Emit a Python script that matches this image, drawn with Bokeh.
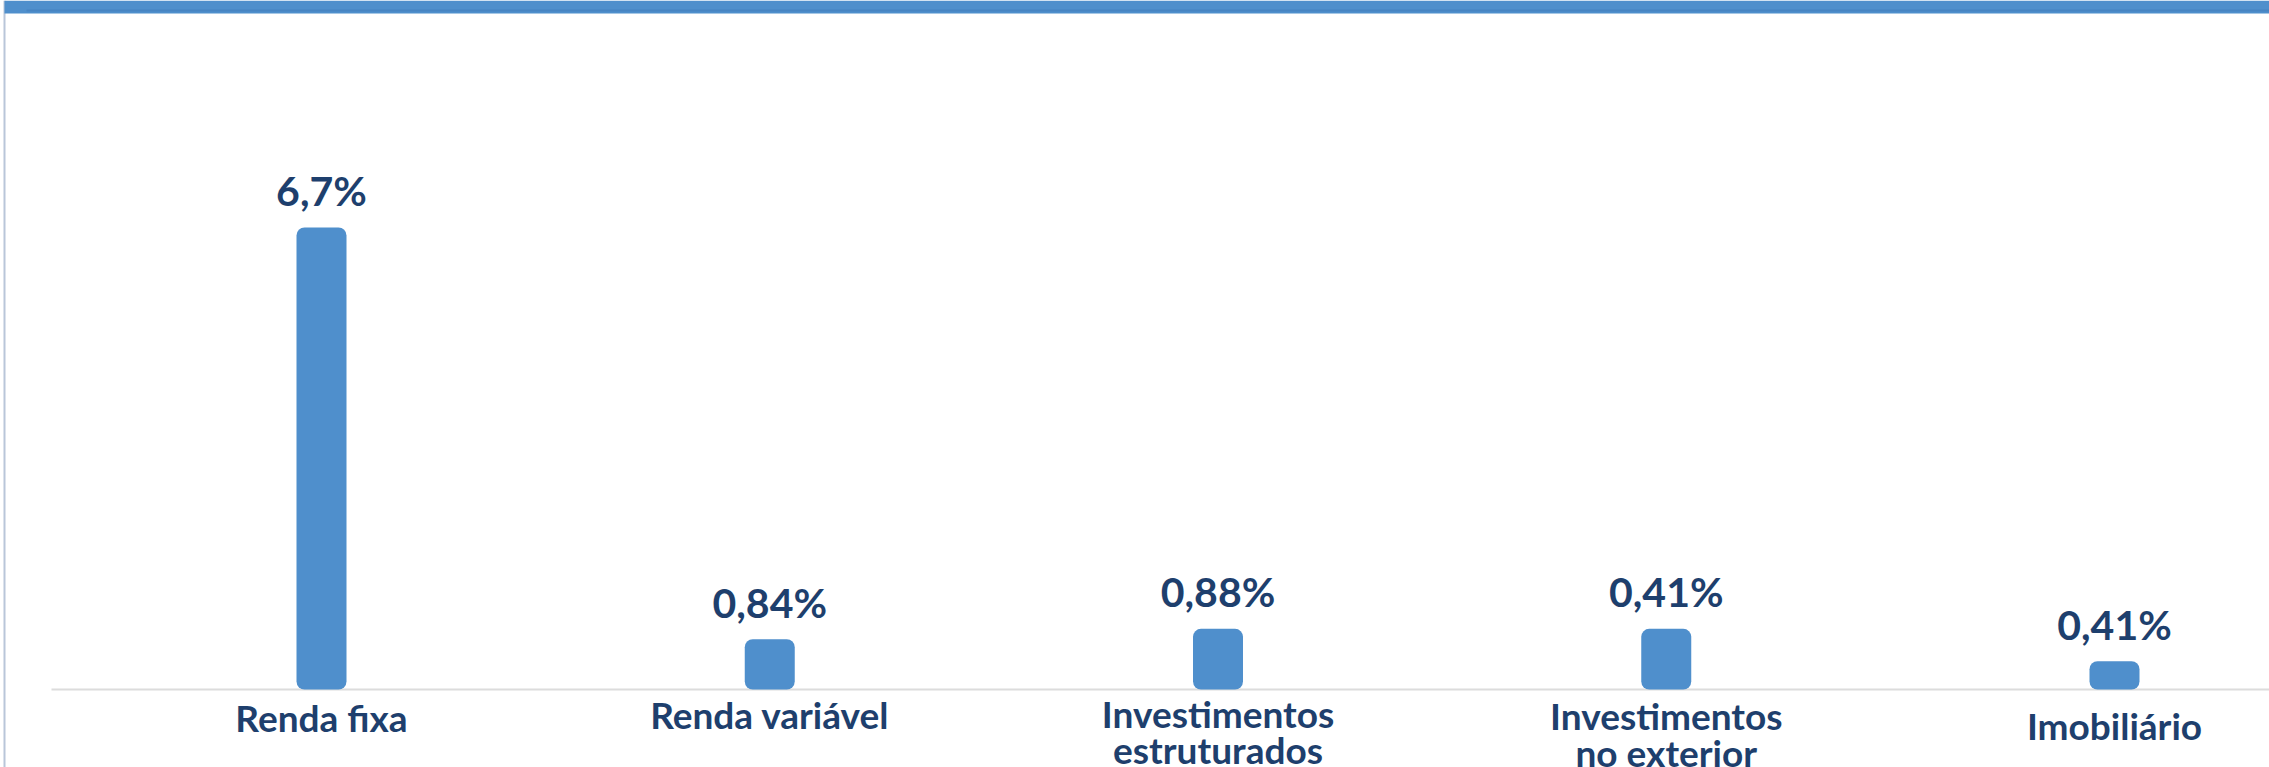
from bokeh.plotting import figure
from bokeh.models import Range1d, ColumnDataSource
from bokeh.core.properties import value
from bokeh.embed import file_html
from bokeh.resources import INLINE

# ---- data ----
categories = ["Renda fixa", "Renda variável", "Investimentos\nestruturados",
              "Investimentos\nno exterior", "Imobiliário"]
bar_values = [6.7, 0.73, 0.88, 0.88, 0.41]
value_labels = ["6,7%", "0,84%", "0,88%", "0,41%", "0,41%"]

# ---- layout constants (pixels) ----
W, H = 2269, 767
PX_X = 448.25          # pixels per category
FIRST_X = 321          # pixel x of first category centre
BASE_Y = 689           # pixel y of the baseline (from top)
PX_Y = 462 / 6.7       # pixels per value unit

x_start = -FIRST_X / PX_X
x_end = (W - FIRST_X) / PX_X
y_end = BASE_Y / PX_Y
y_start = -(H - BASE_Y) / PX_Y


def dx(px):
    return x_start + px / PX_X


def dy(px):
    return y_end - px / PX_Y


TEXT_COLOR = "#1e3f6d"
BAR_COLOR = "#4f8fcc"

idx = list(range(len(categories)))
line1 = [c.split("\n")[0] for c in categories]
line2 = [c.split("\n")[1] if "\n" in c else "" for c in categories]
off1 = [28, 25, 24, 26, 36]
off2 = [62, 60, 60, 63, 70]

p = figure(width=W, height=H, x_range=Range1d(x_start, x_end),
           y_range=Range1d(y_start, y_end), output_backend="svg",
           toolbar_location=None, min_border=0, outline_line_color=None,
           x_axis_location=None, y_axis_location=None,
           background_fill_color="white", border_fill_color="white")
p.grid.visible = False

# left border
p.quad(left=dx(3), right=dx(5), top=y_end, bottom=y_start,
       fill_color="#b9c6d9", line_color=None)
# top band
p.quad(left=dx(4), right=x_end, top=y_end, bottom=dy(13),
       fill_color=BAR_COLOR, line_color=None)
p.quad(left=dx(26), right=x_end, top=dy(9), bottom=dy(11),
       fill_color="#4784c2", line_color=None)
# baseline
p.segment(x0=dx(51), y0=0, x1=x_end, y1=0, line_color="#dcdcdc", line_width=2)

src = ColumnDataSource(dict(x=idx, top=bar_values, lab=value_labels,
                            l1=line1, l2=line2, o1=off1, o2=off2))

p.vbar(x="x", top="top", bottom=0, width=50 / PX_X, source=src,
       fill_color=BAR_COLOR, line_color=None, border_radius=8)

p.text(x="x", y="top", text="lab", source=src, y_offset=-37,
       text_align="center", text_baseline="alphabetic",
       text_font=value("Lato"), text_font_style="bold",
       text_font_size="41px", text_color=TEXT_COLOR)

p.text(x="x", y=0, text="l1", source=src, y_offset="o1",
       text_align="center", text_baseline="alphabetic",
       text_font=value("Lato"), text_font_style="bold",
       text_font_size="37px", text_color=TEXT_COLOR)
p.text(x="x", y=0, text="l2", source=src, y_offset="o2",
       text_align="center", text_baseline="alphabetic",
       text_font=value("Lato"), text_font_style="bold",
       text_font_size="37px", text_color=TEXT_COLOR)

open("out.html", "w").write(file_html(p, INLINE))
